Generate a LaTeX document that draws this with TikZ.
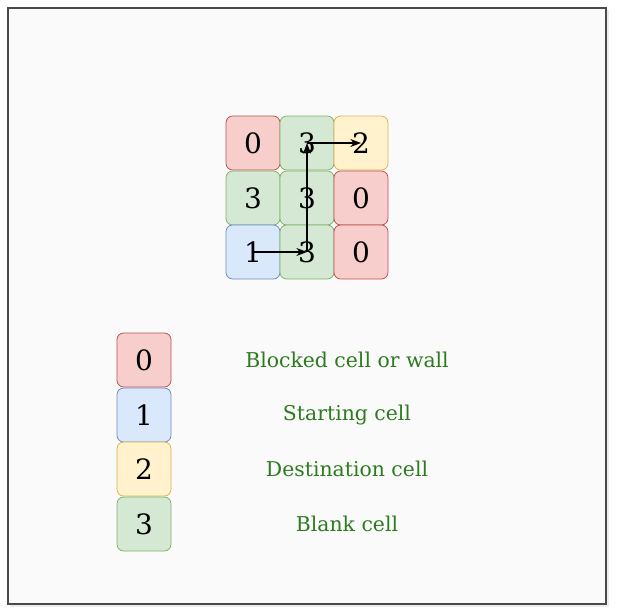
\documentclass[tikz,border=0pt]{standalone}
\usepackage{fontspec}
\setmainfont{DejaVu Serif}
\usetikzlibrary{arrows.meta}

\definecolor{wallfill}{HTML}{F8CECC}
\definecolor{walldraw}{HTML}{B85450}
\definecolor{startfill}{HTML}{DAE8FC}
\definecolor{startdraw}{HTML}{6C8EBF}
\definecolor{destfill}{HTML}{FFF2CC}
\definecolor{destdraw}{HTML}{D6B656}
\definecolor{blankfill}{HTML}{D5E8D4}
\definecolor{blankdraw}{HTML}{82B366}
\definecolor{labelgreen}{HTML}{2D7A1F}
\definecolor{paper}{HTML}{FAFAFA}
\definecolor{framegray}{HTML}{4A4A4A}

\tikzset{
  cell/.style={draw, rounded corners=5pt, minimum size=40.5pt, inner sep=0pt,
    line width=0.6pt, font=\fontsize{21}{21}\selectfont},
  wall/.style={cell, fill=wallfill, draw=walldraw},
  start/.style={cell, fill=startfill, draw=startdraw},
  dest/.style={cell, fill=destfill, draw=destdraw},
  blank/.style={cell, fill=blankfill, draw=blankdraw},
  legendtext/.style={text=labelgreen, font=\fontsize{15.3}{17}\selectfont},
  path/.style={-{Stealth[length=8pt,width=6pt,inset=2.5pt]}, line width=0.8pt}
}

\begin{document}
\begin{tikzpicture}[x=0.75pt,y=-0.75pt]
        \useasboundingbox (0,0) rectangle (620,614);
        \fill[white] (0,0) rectangle (620,614);
        \fill[black!7] (10,10) rectangle (609,607);
        \draw[draw=framegray, fill=paper, line width=1.1pt] (8,8) rectangle (606,604);

        % grid
        \node[wall]  at (253,143) (g00) {0};
        \node[blank] at (307,143) (g01) {3};
        \node[dest]  at (361,143) (g02) {2};
        \node[blank] at (253,198) (g10) {3};
        \node[blank] at (307,198) (g11) {3};
        \node[wall]  at (361,198) (g12) {0};
        \node[start] at (253,252) (g20) {1};
        \node[blank] at (307,252) (g21) {3};
        \node[wall]  at (361,252) (g22) {0};

        \draw[path] (g20.center) -- (g21.center);
        \draw[path] (g21.center) -- (g01.center);
        \draw[path] (g01.center) -- (g02.center);

        % legend
        \node[wall]  at (144,360) (k0) {0};
        \node[start] at (144,415) (k1) {1};
        \node[dest]  at (144,469) (k2) {2};
        \node[blank] at (144,524) (k3) {3};

        \node[legendtext] at (347,360) (t0) {Blocked cell or wall};
        \node[legendtext] at (347,415) (t1) {Starting cell};
        \node[legendtext] at (347,469) (t2) {Destination cell};
        \node[legendtext] at (347,524) (t3) {Blank cell};
\end{tikzpicture}
\end{document}
